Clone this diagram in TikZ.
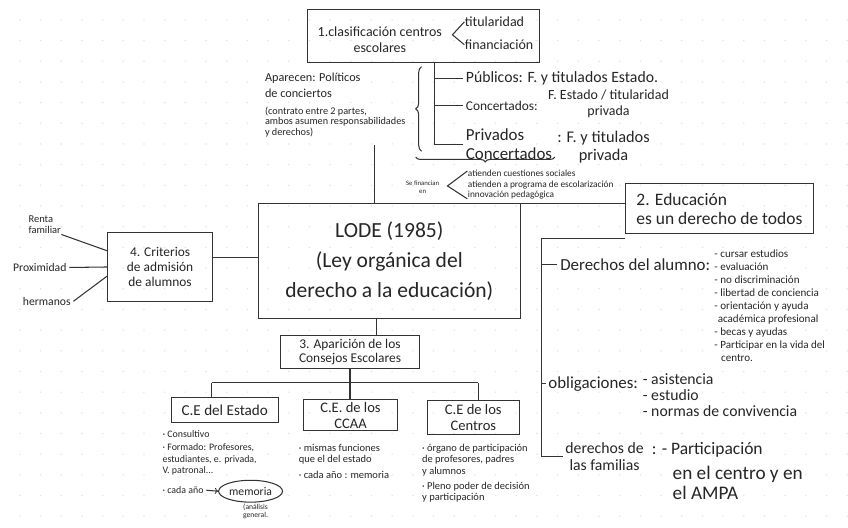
\documentclass[tikz,border=0pt]{standalone}
\usepackage{fontspec}
\setmainfont{Carlito}
\usetikzlibrary{decorations.pathreplacing,shapes.geometric}

\begin{document}
\begin{tikzpicture}[x=0.03cm, y=-0.03cm, line width=0.9pt, color=black!80, text=black!85,
    box/.style={draw, rectangle, inner sep=2pt, align=center},
    txt/.style={inner sep=0pt, align=left, anchor=west},
    fs/.style 2 args={font=\fontsize{#1}{#2}\selectfont}]
    % Dotted paper
    \fill[white] (0,0) rectangle (848,530);
    \foreach \i in {0,...,40}
        \foreach \j in {0,...,24}
            \fill[black!11] (20+20.8*\i,20+20.8*\j) circle (0.7pt);
    \useasboundingbox (0,0) rectangle (848,530);

    % 1. Clasificacion
    \node[box, minimum width=7.02cm, minimum height=1.59cm] (clas) at (426,36.5) {};
    \node[anchor=center, align=center, inner sep=0pt, fs={12}{14}] (clasT) at (382,40) {1.clasificación centros\\escolares};
    \node[txt, fs={12}{13}] (tit) at (467,22) {titularidad};
    \node[txt, fs={12}{13}] (fin) at (467,45) {financiación};
    \coordinate (clasV) at (455,35);
    \draw (tit.west) -- (clasV) -- (fin.west);

    \path (clas.south) ++(11,0) coordinate (clasB);
    \node[txt, fs={13.5}{15}] (pub) at (468,79) {Públicos: F. y titulados Estado.};
    \node[txt, fs={11.5}{13}] (conc) at (468,106) {Concertados:};
    \node[anchor=center, align=center, inner sep=0pt, fs={12}{13.5}] (concD) at (612,104) {F. Estado / titularidad\\privada};
    \node[txt, fs={14.5}{15.5}] (priv) at (468,145) {Privados\\Concertados};
    \node[anchor=center, align=center, inner sep=0pt, fs={14}{15}] (privD) at (607,148) {: F. y titulados\\privada};
    \draw (clasB) |- ([xshift=-2pt]priv.west);
    \draw (clasB |- pub.west) -- ([xshift=-2pt]pub.west);
    \draw (clasB |- conc.west) -- ([xshift=-2pt]conc.west);
    \draw[decorate, decoration={brace, amplitude=5pt}] (424,152) -- (424,67);
    \draw[decorate, decoration={brace, amplitude=4pt}] (558,158) -- (418,158);

    \node[txt, anchor=north west, fs={10.5}{14}] (apar) at (266,73) {Aparecen: Políticos\\de conciertos};
    \node[txt, anchor=north west, fs={8.8}{9}] (contr) at (266,107) {(contrato entre 2 partes,\\ambos asumen responsabilidades\\y derechos)};
    \coordinate (apB) at (377,146);

    \node[anchor=center, align=center, inner sep=0pt, fs={5.8}{7}] (sefin) at (425,188) {Se financian\\en};
    \node[txt, fs={8}{9}] (atien) at (470,186) {atienden cuestiones sociales\\atienden a programa de escolarización\\innovación pedagógica};
    \coordinate (finV) at (450,187);
    \draw ([yshift=-1pt]atien.north west) -- (finV) -- ([yshift=1pt]atien.south west);

    % LODE
    \node[box, minimum width=7.89cm, minimum height=3.45cm, fs={18.5}{26}] (lode) at (391.5,262.5) {LODE (1985)\\(Ley orgánica del\\derecho a la educación)};
    \draw (apB) -- (apB |- lode.north);

    % 2. Educacion
    \node[box, minimum width=5.67cm, minimum height=1.5cm, align=left, fs={15}{16}] (edu) at (723.5,210) {2. Educación\\es un derecho de todos};
    \draw (lode.north east) -- (lode.north east -| edu.west);

    \coordinate (spine) at (545,240);
    \node[txt, fs={14.5}{16}] (der) at (563,266) {Derechos del alumno:};
    \node[txt, anchor=north west, fs={9.5}{11.1}] (derL) at (718,251) {- cursar estudios\\- evaluación\\- no discriminación\\- libertad de conciencia\\- orientación y ayuda\\\hspace*{0.3em}académica profesional\\- becas y ayudas\\- Participar en la vida del\\\hspace*{0.6em}centro.};
    \node[txt, fs={14.5}{16}] (obl) at (551,386) {obligaciones:};
    \node[txt, anchor=north west, fs={13.5}{14}] (oblL) at (646,375) {- asistencia\\- estudio\\- normas de convivencia};
    \node[anchor=center, align=center, inner sep=0pt, fs={13.5}{15}] (fam) at (608,459) {derechos de\\las familias};
    \node[txt, fs={15}{16}] (famA) at (655,452) {: - Participación};
    \node[txt, anchor=north west, fs={16.5}{17}] (famB) at (676,468) {en el centro y en\\el AMPA};
    \draw (spine -| edu.south west) -- (spine) |- ([xshift=-2pt]fam.west);
    \draw (spine |- der.west) -- ([xshift=-2pt]der.west);
    \draw (spine |- obl.west) -- ([xshift=-2pt]obl.west);

    % 4. Criterios
    \node[box, minimum width=3.18cm, minimum height=2.07cm, fs={11.5}{13}] (crit) at (161,268.5) {4. Criterios\\de admisión\\de alumnos};
    \draw ([yshift=8pt]crit.east) -- ([yshift=8pt]crit.east -| lode.west);
    \node[anchor=center, align=left, inner sep=0pt, fs={9}{10}] (renta) at (45,226) {Renta\\familiar};
    \node[anchor=center, inner sep=0pt, fs={10}{11}] (prox) at (40,269) {Proximidad};
    \node[anchor=center, inner sep=0pt, fs={10}{11}] (herm) at (47,303) {hermanos};
    \draw (renta.south east) -- ([yshift=14pt]crit.west);
    \draw ([xshift=2pt]prox.east) -- (crit.west);
    \draw ([xshift=2pt]herm.east) -- ([yshift=-8pt]crit.west);

    % 3. Consejos escolares
    \node[box, minimum width=4.2cm, minimum height=1.02cm, fs={11.5}{12.5}] (cons) at (352,354) {3. Aparición de los\\Consejos Escolares};
    \path (cons.north) ++(27,0) coordinate (consT);
    \draw (consT) -- (consT |- lode.south);

    \node[box, minimum width=3.24cm, minimum height=0.75cm, fs={13}{14}] (estado) at (226,412.5) {C.E del Estado};
    \node[box, minimum width=2.85cm, minimum height=0.93cm, inner sep=1pt, fs={12.5}{13.5}] (ccaa) at (352.5,417.5) {C.E. de los\\CCAA};
    \node[box, minimum width=2.76cm, minimum height=1.02cm, inner sep=1pt, fs={12.5}{13.5}] (centros) at (476,420) {C.E de los\\Centros};
    \coordinate (barL) at (213,385);
    \coordinate (barR) at (481,385);
    \draw (barL) -- (barR);
    \draw (barL) -- (barL |- estado.north);
    \draw (barR) -- (barR |- centros.north);
    \draw (cons.south) -- (cons.south |- ccaa.north);

    \node[txt, fs={8.5}{9.5}] (estA) at (163,437) {· Consultivo};
    \node[txt, anchor=north west, fs={8.5}{9.8}] (estB) at (163,446) {· Formado: Profesores,\\estudiantes, e. privada,\\V. patronal...};
    \node[txt, fs={8.5}{9.5}] (estC) at (163,493) {· cada año};
    \node[draw, ellipse, minimum width=1.5cm, minimum height=0.66cm, inner sep=1pt, fs={10}{11}] (mem) at (252,494) {memoria};
    \draw[->] ([xshift=2pt]estC.east) -- (mem.west);
    \node[anchor=center, align=center, inner sep=0pt, fs={6.5}{7}] (anal) at (257,514) {(análisis\\general.};
    \node[txt, anchor=north west, fs={9}{10}] (ccaaA) at (300,446) {· mismas funciones\\que el del estado};
    \node[txt, fs={9}{10}] (ccaaB) at (300,478) {· cada año : memoria};
    \node[txt, anchor=north west, fs={9}{10}] (centA) at (424,446) {· órgano de participación\\de profesores, padres\\y alumnos};
    \node[txt, anchor=north west, fs={9}{10}] (centB) at (424,484) {· Pleno poder de decisión\\y participación};
\end{tikzpicture}
\end{document}
